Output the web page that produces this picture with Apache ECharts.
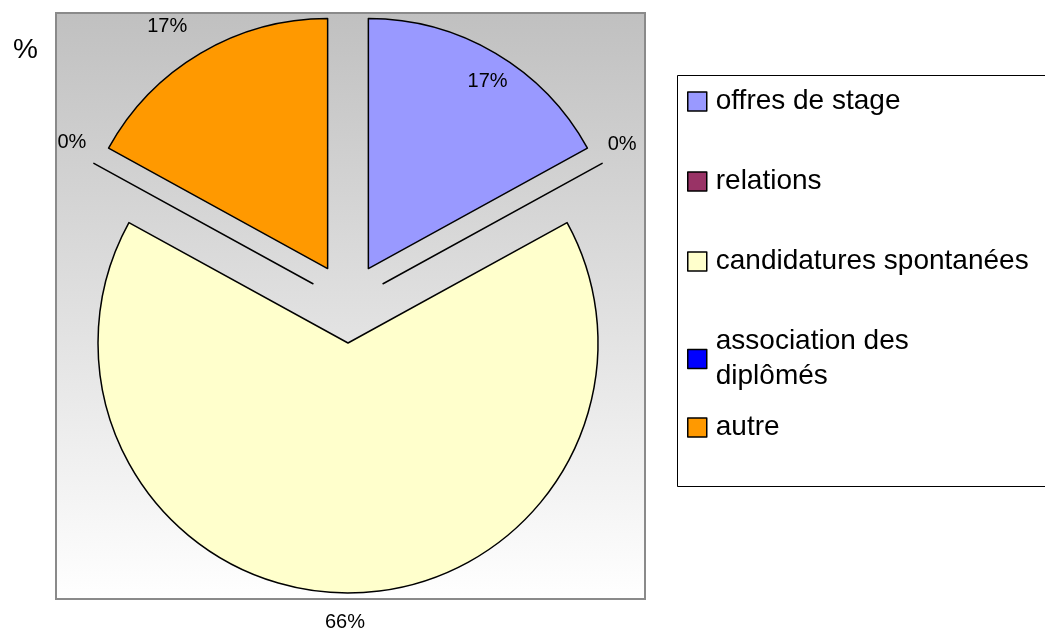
<!DOCTYPE html>
<html>
<head>
<meta charset="utf-8">
<title>Pie chart</title>
<script src="https://cdn.jsdelivr.net/npm/echarts@6/dist/echarts.min.js"></script>
<style>
  html, body { margin: 0; padding: 0; background: #ffffff; }
  #chart { width: 1045px; height: 628px; }
</style>
</head>
<body>
<div id="chart"></div>
<script>
// Data
const categories = ['offres de stage', 'relations', 'candidatures spontanées', 'association des diplômés', 'autre'];
const values = [17, 0, 66, 0, 17];
const colors = ['#9999ff', '#993366', '#ffffcc', '#0000ff', '#ff9900'];

const chart = echarts.init(document.getElementById('chart'));

// small nudges so labels land where the original tool put them
const labelNudge = [[54, -77], [-10, -13], [-28, 17], [8, -15], [-2, -17]];

const pieData = categories.map((name, i) => {
    const item = {
        name: name,
        value: values[i],
        selected: true,
        itemStyle: { color: colors[i] }
    };
    if (i === 0) {
        item.label = { position: 'inside' };
    }
    return item;
});

const legendText = { fontFamily: 'Liberation Sans', fontSize: 28, color: '#000', lineHeight: 35, padding: [0, 0, 0, 4] };
const legendIcon = { borderColor: '#000', borderWidth: 1.5 };

const option = {
    animation: false,
    backgroundColor: '#ffffff',
    graphic: [
        {
            type: 'rect',
            z: -1,
            shape: { x: 56, y: 13, width: 589, height: 586 },
            style: {
                fill: new echarts.graphic.LinearGradient(0, 0, 0, 1, [
                    { offset: 0, color: '#c0c0c0' },
                    { offset: 1, color: '#ffffff' }
                ]),
                stroke: '#8a8a8a',
                lineWidth: 2
            }
        },
        {
            type: 'rect',
            z: -1,
            shape: { x: 677.5, y: 75.5, width: 380, height: 411 },
            style: { fill: '#ffffff', stroke: '#000000', lineWidth: 1 }
        },
        {
            type: 'text',
            x: 13,
            y: 50,
            style: {
                text: '%',
                fontFamily: 'Liberation Sans',
                fontSize: 28,
                fill: '#000',
                verticalAlign: 'middle'
            }
        }
    ],
    legend: [
        {
            orient: 'vertical',
            left: 687,
            top: 84,
            padding: 0,
            icon: 'rect',
            itemWidth: 19,
            itemHeight: 19,
            itemGap: 45,
            selectedMode: false,
            data: categories.slice(0, 4),
            formatter: name => name === 'association des diplômés' ? 'association des\ndiplômés' : name,
            textStyle: legendText,
            itemStyle: legendIcon
        },
        {
            orient: 'vertical',
            left: 687,
            top: 410,
            padding: 0,
            icon: 'rect',
            itemWidth: 19,
            itemHeight: 19,
            selectedMode: false,
            data: categories.slice(4),
            textStyle: legendText,
            itemStyle: legendIcon
        }
    ],
    series: [{
        type: 'pie',
        center: [348, 303],
        radius: [0, 250],
        startAngle: 90,
        clockwise: true,
        minAngle: 0,
        avoidLabelOverlap: false,
        selectedMode: 'multiple',
        selectedOffset: 40,
        itemStyle: { borderColor: '#000', borderWidth: 1.5 },
        emphasis: { disabled: true },
        select: { itemStyle: { borderColor: '#000', borderWidth: 1.5 } },
        label: {
            show: true,
            position: 'outside',
            formatter: '{d}%',
            fontFamily: 'Liberation Sans',
            fontSize: 20,
            color: '#000'
        },
        labelLine: { show: false, length: 12, length2: 0 },
        labelLayout: function (params) {
            const n = labelNudge[params.dataIndex];
            return { dx: n[0], dy: n[1] };
        },
        data: pieData
    }]
};

chart.setOption(option);

window.addEventListener('resize', () => {
    chart.resize();
});
</script>
</body>
</html>
